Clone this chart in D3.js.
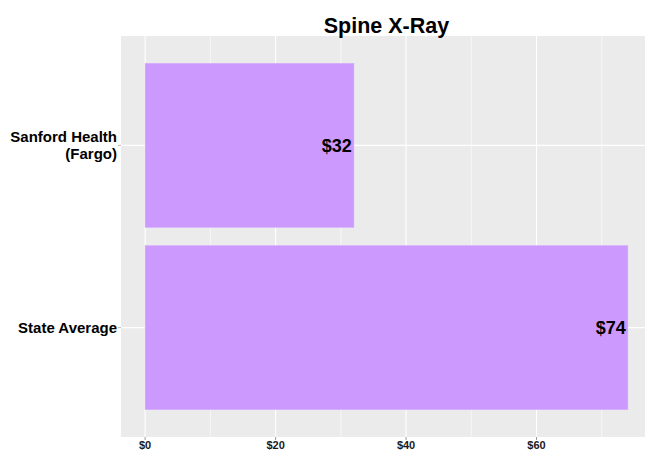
<!DOCTYPE html>
<html>
<head>
<meta charset="utf-8">
<script src="https://cdn.jsdelivr.net/npm/d3@7"></script>
<style>
  body { margin: 0; background: #fff; }
  text { font-family: "Liberation Sans", Arial, sans-serif; font-weight: bold; }
</style>
</head>
<body>
<svg id="chart"></svg>
<script>
// data
const categories = ["Sanford Health\n(Fargo)", "State Average"];
const prices = [32, 74];
const xTicks = [0, 20, 40, 60];
const xMinor = [10, 30, 50, 70];
const title = "Spine X-Ray";

const width = 645, height = 451;
const margin = { top: 36, left: 121, bottom: 14 };
const panelW = 531; // panel runs past the right edge like the original
const panelH = height - margin.top - margin.bottom;

const svg = d3.select("#chart")
  .attr("width", width)
  .attr("height", height);

// ggplot style expansion: 5% on x, 0.6 units on discrete y
const xMax = d3.max(prices);
const xScale = d3.scaleLinear()
  .domain([-xMax * 0.05, xMax * 1.05])
  .range([margin.left, margin.left + panelW]);

const unit = panelH / (categories.length - 1 + 1.2);
const yScale = d3.scalePoint()
  .domain(categories)
  .range([margin.top + unit * 0.6, margin.top + panelH - unit * 0.6]);

// panel background
svg.append("rect")
  .attr("x", margin.left)
  .attr("y", margin.top)
  .attr("width", panelW)
  .attr("height", panelH)
  .attr("fill", "#ebebeb");

// minor grid
svg.selectAll(".minor")
  .data(xMinor)
  .join("line")
  .attr("x1", d => xScale(d)).attr("x2", d => xScale(d))
  .attr("y1", margin.top).attr("y2", margin.top + panelH)
  .attr("stroke", "#fff").attr("stroke-width", 0.6);

// major grid
svg.selectAll(".major")
  .data(xTicks)
  .join("line")
  .attr("x1", d => xScale(d)).attr("x2", d => xScale(d))
  .attr("y1", margin.top).attr("y2", margin.top + panelH)
  .attr("stroke", "#fff").attr("stroke-width", 1.1);

svg.selectAll(".hgrid")
  .data(categories)
  .join("line")
  .attr("x1", margin.left).attr("x2", margin.left + panelW)
  .attr("y1", d => yScale(d)).attr("y2", d => yScale(d))
  .attr("stroke", "#fff").attr("stroke-width", 1.1);

// bars
const barH = unit * 0.9;
svg.selectAll(".bar")
  .data(prices)
  .join("rect")
  .attr("x", xScale(0))
  .attr("y", (d, i) => yScale(categories[i]) - barH / 2)
  .attr("width", d => xScale(d) - xScale(0))
  .attr("height", barH)
  .attr("fill", "#cc99ff")
  .attr("stroke", "#d4a8ff")
  .attr("stroke-width", 0.5);

// value labels
svg.selectAll(".val")
  .data(prices)
  .join("text")
  .attr("x", d => xScale(d) - 2)
  .attr("y", (d, i) => yScale(categories[i]))
  .attr("dy", "0.35em")
  .attr("text-anchor", "end")
  .attr("font-size", 18)
  .attr("fill", "#000")
  .text(d => "$" + d);

// x axis ticks + labels
const axisY = margin.top + panelH;
svg.selectAll(".xtick")
  .data(xTicks)
  .join("line")
  .attr("x1", d => xScale(d)).attr("x2", d => xScale(d))
  .attr("y1", axisY).attr("y2", axisY + 3)
  .attr("stroke", "#999").attr("stroke-width", 1);

svg.selectAll(".xlab")
  .data(xTicks)
  .join("text")
  .attr("x", d => xScale(d))
  .attr("y", axisY + 11.5)
  .attr("text-anchor", "middle")
  .attr("font-size", 11)
  .attr("fill", "#1a1a1a")
  .text(d => "$" + d);

// y axis ticks + labels
svg.selectAll(".ytick")
  .data(categories)
  .join("line")
  .attr("x1", margin.left - 3).attr("x2", margin.left)
  .attr("y1", d => yScale(d)).attr("y2", d => yScale(d))
  .attr("stroke", "#bbb").attr("stroke-width", 1);

const ylab = svg.selectAll(".ylab")
  .data(categories)
  .join("text")
  .attr("text-anchor", "end")
  .attr("font-size", 15)
  .attr("fill", "#000");

ylab.each(function(d) {
  const lines = d.split("\n");
  const t = d3.select(this);
  const y0 = yScale(d) - (lines.length - 1) * 8.5;
  lines.forEach((l, i) => {
    t.append("tspan")
      .attr("x", margin.left - 4)
      .attr("y", y0 + i * 17)
      .attr("dy", "0.35em")
      .text(l);
  });
});

// title, centred on the whole panel
svg.append("text")
  .attr("x", margin.left + panelW / 2)
  .attr("y", 25)
  .attr("dy", "0.35em")
  .attr("text-anchor", "middle")
  .attr("font-size", 21.5)
  .attr("fill", "#000")
  .text(title);
</script>
</body>
</html>
